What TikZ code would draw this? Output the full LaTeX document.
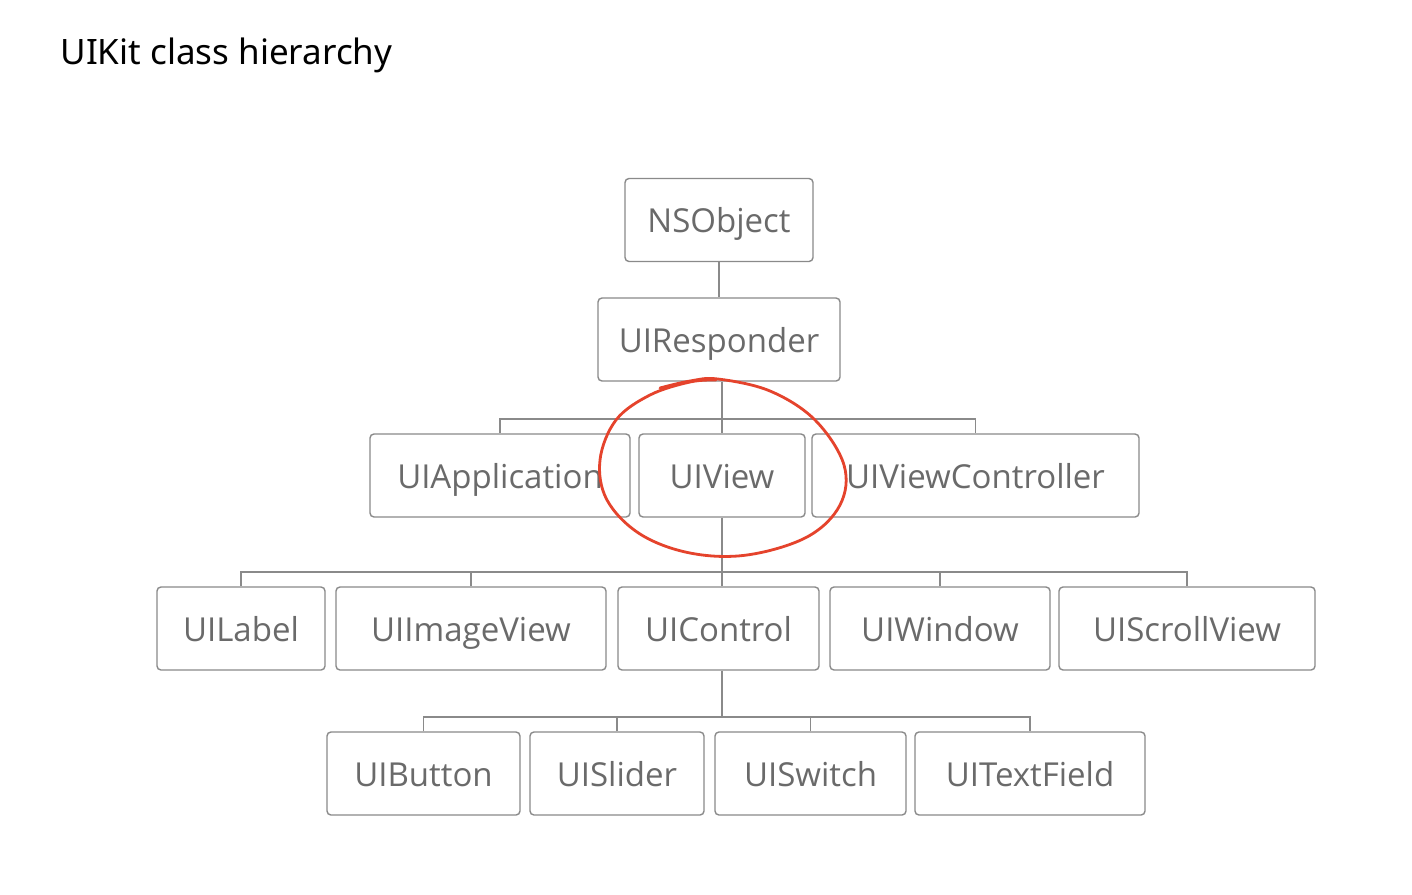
\documentclass[tikz,border=0pt]{standalone}
\usepackage{fontspec}
\setmainfont{Noto Sans}
\newfontfamily\boxfont{Open Sans}
\definecolor{boxline}{HTML}{8A8A8A}
\definecolor{boxtext}{HTML}{6A6A6A}
\definecolor{circred}{HTML}{E5432C}
\begin{document}
\begin{tikzpicture}[x=1pt,y=-1pt,
  cls/.style={draw=boxline, line width=1.4pt, rounded corners=4pt, text=boxtext,
    font=\boxfont\fontsize{33}{38}\selectfont, minimum height=83pt, inner sep=0pt,
    text height=28pt, text depth=3pt},
  link/.style={draw=boxline, line width=1.4pt}]
\useasboundingbox (0,0) rectangle (1412,894);
\fill[white] (0,0) rectangle (1412,894);
\node[anchor=west, font=\fontsize{35}{42}\selectfont, text=black] (title) at (57,55) {UIKit class hierarchy};

\node[cls, minimum width=188pt] (nsobj) at (719,220) {NSObject};
\node[cls, minimum width=242pt] (resp) at (719,339.5) {UIResponder};

\node[cls, minimum width=260pt] (app) at (500,475.5) {UIApplication};
\node[cls, minimum width=166pt] (view) at (722,475.5) {UIView};
\node[cls, minimum width=327pt] (vc) at (975.5,475.5) {UIViewController};

\node[cls, minimum width=168pt] (label) at (241,628.5) {UILabel};
\node[cls, minimum width=270pt] (image) at (471,628.5) {UIImageView};
\node[cls, minimum width=201pt] (control) at (718.5,628.5) {UIControl};
\node[cls, minimum width=220pt] (window) at (940,628.5) {UIWindow};
\node[cls, minimum width=256pt] (scroll) at (1187,628.5) {UIScrollView};

\node[cls, minimum width=193pt] (button) at (423.5,773.5) {UIButton};
\node[cls, minimum width=174pt] (slider) at (617,773.5) {UISlider};
\node[cls, minimum width=191pt] (switch) at (810.5,773.5) {UISwitch};
\node[cls, minimum width=230pt] (text) at (1030,773.5) {UITextField};

\coordinate (busA) at (722,419);
\coordinate (busB) at (722,572);
\coordinate (busC) at (722,717);

\draw[link] (nsobj.south) -- (resp.north);
\draw[link] (view.north |- resp.south) -- (view.north);
\draw[link] (app.north) |- (busA) -| (vc.north);

\draw[link] (view.south) -- (view.south |- control.north);
\draw[link] (label.north) |- (busB) -| (scroll.north);
\draw[link] (image.north) -- (image.north |- busB);
\draw[link] (window.north) -- (window.north |- busB);

\draw[link] (busC |- control.south) -- (busC);
\draw[link] (button.north) |- (busC) -| (text.north);
\draw[link] (slider.north) -- (slider.north |- busC);
\draw[link] (switch.north) -- (switch.north |- busC);

\draw[circred, line width=2.8pt, line cap=round, line join=round]
  plot[smooth, tension=0.6] coordinates {
    (660,388) (690,381) (718,379) (770,391) (815,420) (844,465)
    (840,505) (807,537) (747,555) (690,553) (640,534) (607,500)
    (600,460) (616,420) (650,395) (690,382) (716,380)};
\end{tikzpicture}
\end{document}
